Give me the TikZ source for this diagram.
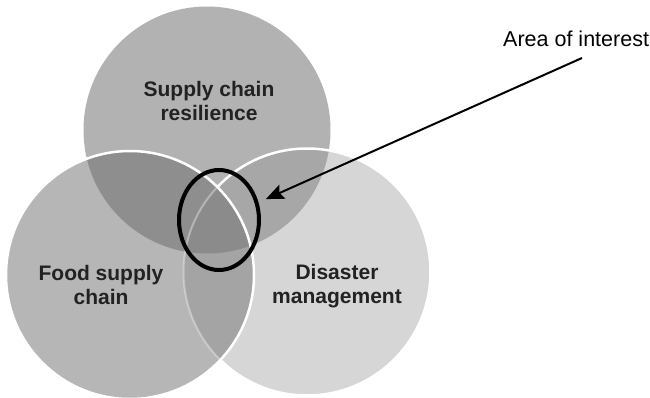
\documentclass[tikz,border=0pt]{standalone}
\usepackage{fontspec}
\setmainfont{Liberation Sans}
\usetikzlibrary{arrows.meta,shapes.geometric}
\definecolor{colT}{HTML}{B2B2B2}
\definecolor{colL}{HTML}{B6B6B6}
\definecolor{colR}{HTML}{D6D6D6}
\definecolor{colTL}{HTML}{8E8E8E}
\definecolor{colTR}{HTML}{A7A7A7}
\definecolor{colLR}{HTML}{A4A4A4}
\definecolor{colTLR}{HTML}{8B8B8B}
\definecolor{txt}{HTML}{222222}
\begin{document}
\begin{tikzpicture}[x=1pt,y=-1pt,
  setlbl/.style={font=\fontsize{21}{24.5}\selectfont\bfseries, align=center, text=txt, inner sep=0pt},
  rim/.style={white, line width=2.5pt},
  pointer/.style={line width=2pt, -{Stealth[length=18pt,width=15pt,inset=3pt]}, shorten >=10pt}]
\useasboundingbox (0,0) rectangle (650,398);
\fill[white] (0,0) rectangle (650,398);
\coordinate (pT) at (207,130);
\coordinate (pL) at (130,275);
\coordinate (pR) at (307,272);
\def\rT{123.5pt}\def\rL{124pt}\def\rR{123.5pt}
% top circle
\fill[colT] (pT) circle[radius=\rT];
% right circle
\fill[colR] (pR) circle[radius=\rR];
\begin{scope}
  \clip (pR) circle[radius=\rR];
  \fill[colTR] (pT) circle[radius=\rT];
\end{scope}
\draw[rim] (pR) circle[radius=\rR];
% left circle
\fill[colL] (pL) circle[radius=\rL];
\begin{scope}
  \clip (pL) circle[radius=\rL];
  \fill[colTL] (pT) circle[radius=\rT];
  \fill[colLR] (pR) circle[radius=\rR];
  \clip (pT) circle[radius=\rT];
  \fill[colTLR] (pR) circle[radius=\rR];
\end{scope}
\begin{scope}
  \clip (pL) circle[radius=\rL];
  \draw[color=white, opacity=0.35, line width=2pt] (pR) circle[radius=\rR];
\end{scope}
\draw[rim] (pL) circle[radius=\rL];
% labels
\node[setlbl] (scr) at (209,101) {Supply chain\\resilience};
\node[setlbl] (fsc) at (101,285) {Food supply\\chain};
\node[setlbl] (dm) at (337,286) {Disaster\\management};
% area of interest
\node[draw, ellipse, line width=4pt, minimum width=80pt, minimum height=100pt, inner sep=0pt, outer sep=0pt] (aoi) at (219,220) {};
\node[anchor=base west, font=\fontsize{21.5}{24}\selectfont, inner sep=0pt] (aoilbl) at (503,47) {Area of interest};
\coordinate (start) at (582,58);
\draw[pointer] (start) -- (aoi);
\end{tikzpicture}
\end{document}
